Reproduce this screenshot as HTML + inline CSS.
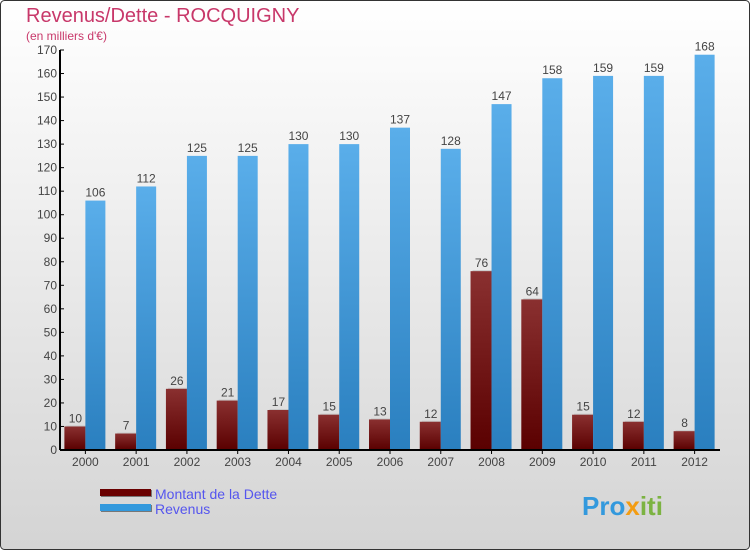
<!DOCTYPE html>
<html><head><meta charset="utf-8"><style>
body{margin:0;}
svg text{font-family:"Liberation Sans",sans-serif;}
</style></head><body>
<svg width="750" height="550" xmlns="http://www.w3.org/2000/svg">
<defs>
<linearGradient id="bg" x1="0" y1="0" x2="0" y2="1"><stop offset="0" stop-color="#ffffff"/><stop offset="1" stop-color="#d4d4d4"/></linearGradient>
<linearGradient id="gd" x1="0" y1="0" x2="0" y2="1"><stop offset="0" stop-color="#8a3030"/><stop offset="1" stop-color="#5a0000"/></linearGradient>
<linearGradient id="gr" x1="0" y1="0" x2="0" y2="1"><stop offset="0" stop-color="#5aaeea"/><stop offset="1" stop-color="#2a7fbf"/></linearGradient>
</defs>
<rect x="0.5" y="0.5" width="749" height="549" rx="4" fill="url(#bg)" stroke="#333"/>
<text x="26" y="22" font-size="20" fill="#c8386a">Revenus/Dette - ROCQUIGNY</text>
<text x="26" y="40" font-size="12" fill="#c8386a">(en milliers d'€)</text>
<g id="plot"></g>
<g>
<rect x="101" y="490" width="51" height="7" fill="#777"/><rect x="100" y="489" width="51" height="7" fill="#6a0000"/>
<text x="155" y="499" font-size="14" fill="#5555ee">Montant de la Dette</text>
<rect x="101" y="505" width="51" height="7" fill="#777"/><rect x="100" y="504" width="51" height="7" fill="#3399dd"/>
<text x="155" y="514" font-size="14" fill="#5555ee">Revenus</text>
</g>
<text x="582" y="515" font-size="26" font-weight="bold" fill="#3399dd">Pro<tspan fill="#f39c12">x</tspan><tspan fill="#7cb342">iti</tspan></text>
</svg>
<script>
const years=["2000","2001","2002","2003","2004","2005","2006","2007","2008","2009","2010","2011","2012"];
const dette=[10,7,26,21,17,15,13,12,76,64,15,12,8];
const revenus=[106,112,125,125,130,130,137,128,147,158,159,159,168];
const yTicks=[0,10,20,30,40,50,60,70,80,90,100,110,120,130,140,150,160,170];
const NS="http://www.w3.org/2000/svg";
const g=document.getElementById('plot');
const x0=60,x1=720,y0=450,yTop=50,ymax=170;
const bw=(x1-x0)/years.length;
const y=v=>y0-(v/ymax)*(y0-yTop);
function el(t,a,txt){const e=document.createElementNS(NS,t);for(const k in a)e.setAttribute(k,a[k]);if(txt!==undefined)e.textContent=txt;g.appendChild(e);return e;}
const ya=el('line',{x1:x0,y1:yTop,x2:x0,y2:y0,stroke:'#000','stroke-width':2});


yTicks.forEach(v=>{
 const t=el('line',{x1:x0,y1:y(v),x2:x0+4,y2:y(v),stroke:'#000'});
 
 
 const l=el('text',{x:x0-3,y:y(v)+4,'font-size':12,'text-anchor':'end',fill:'#444'},String(v));
 
 
});
years.forEach((yr,i)=>{
 const c=x0+bw*(i+0.5);
 const sd=el('rect',{x:c-19,y:y(dette[i])-1,width:21,height:y0-y(dette[i])+1,fill:'#c8c8c8'});
 
 
 const d=el('rect',{x:c-21,y:y(dette[i]),width:21,height:y0-y(dette[i]),fill:'url(#gd)'});
 
 
 const r=el('rect',{x:c,y:y(revenus[i]),width:20,height:y0-y(revenus[i]),fill:'url(#gr)'});
 
 
 const dl=el('text',{x:c-10,y:y(dette[i])-4,'font-size':12,'text-anchor':'middle',fill:'#444'},String(dette[i]));
 
 
 const rl=el('text',{x:c+10,y:y(revenus[i])-4,'font-size':12,'text-anchor':'middle',fill:'#444'},String(revenus[i]));
 
 
 const tk=el('line',{x1:c,y1:y0,x2:c,y2:y0+4,stroke:'#000'});
 
 
 const xl=el('text',{x:c,y:y0+16,'font-size':12,'text-anchor':'middle',fill:'#444'},yr);
 
 
});
const xa=el('line',{x1:x0,y1:y0,x2:x1,y2:y0,stroke:'#000','stroke-width':2});


</script>
</body></html>
